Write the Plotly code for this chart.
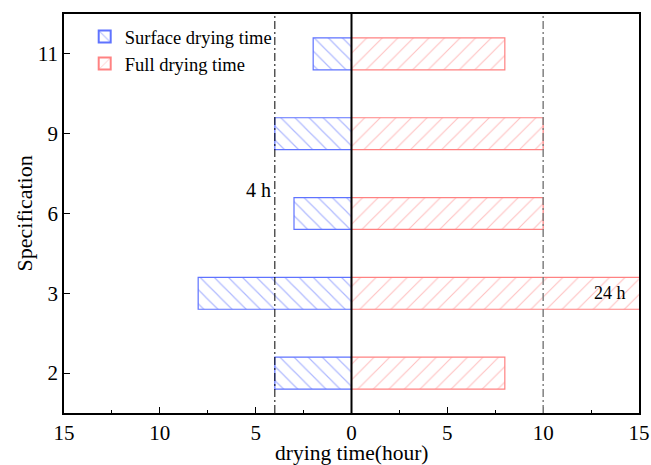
import plotly.graph_objects as go

specs = ["2", "3", "6", "9", "11"]
surface_time = [4, 8, 3, 4, 2]
full_time = [8, 24, 10, 10, 8]
x_tick_vals = [-15, -10, -5, 0, 5, 10, 15]
x_tick_text = ["15", "10", "5", "0", "5", "10", "15"]

BLUE = "rgb(95,115,255)"
RED = "rgb(255,130,130)"
FONT = "Liberation Serif"

fig = go.Figure()
fig.add_trace(go.Bar(
    y=specs, x=[-v for v in surface_time], orientation="h",
    name="Surface drying time", width=0.4,
    marker=dict(color="white", line=dict(color=BLUE, width=1.2),
                pattern=dict(shape="\\", fgcolor=BLUE, bgcolor="white", size=10, solidity=0.12)),
))
fig.add_trace(go.Bar(
    y=specs, x=full_time, orientation="h",
    name="Full drying time", width=0.4,
    marker=dict(color="white", line=dict(color=RED, width=1.2),
                pattern=dict(shape="/", fgcolor=RED, bgcolor="white", size=11, solidity=0.1)),
))

fig.add_shape(type="line", xref="x", yref="paper", x0=0, x1=0, y0=0, y1=1,
              line=dict(color="black", width=2))
fig.add_shape(type="line", xref="x", yref="paper", x0=-4, x1=-4, y0=0, y1=1,
              line=dict(color="black", width=1, dash="8px,3px,2px,3px"))
fig.add_shape(type="line", xref="x", yref="paper", x0=10, x1=10, y0=0, y1=1,
              line=dict(color="gray", width=1.5, dash="8px,3px,2px,3px"))

fig.add_annotation(x=-4, y=2.3, xref="x", yref="y", text="4 h", showarrow=False,
                   xanchor="right", xshift=-2, font=dict(family=FONT, size=20, color="black"))
fig.add_annotation(x=14.4, y=1, xref="x", yref="y", text="24 h", showarrow=False,
                   xanchor="right", font=dict(family=FONT, size=18, color="black"))

# axis titles
fig.add_annotation(x=0.5, y=-0.101, xref="paper", yref="paper", text="drying time(hour)",
                   showarrow=False, xanchor="center", yanchor="middle",
                   font=dict(family=FONT, size=21.5, color="black"))
fig.add_annotation(x=-0.068, y=0.5, xref="paper", yref="paper", text="Specification",
                   showarrow=False, textangle=-90, xanchor="center", yanchor="middle",
                   font=dict(family=FONT, size=22, color="black"))

fig.update_layout(
    width=651, height=465,
    margin=dict(l=64, r=12, t=14, b=52),
    plot_bgcolor="white", paper_bgcolor="white",
    barmode="overlay",
    font=dict(family=FONT, size=20, color="black"),
    legend=dict(x=0.036, y=0.99, xanchor="left", yanchor="top",
                bgcolor="rgba(0,0,0,0)", font=dict(family=FONT, size=18.5),
                itemsizing="constant", tracegroupgap=0),
    showlegend=True,
)
fig.update_xaxes(
    range=[-15, 15], tickvals=x_tick_vals, ticktext=x_tick_text,
    ticks="inside", ticklen=6, tickwidth=1, tickcolor="black",
    minor=dict(ticks="inside", ticklen=3, dtick=2.5, tickcolor="black"),
    showline=True, linecolor="black", linewidth=1.5, mirror=True,
    showgrid=False, zeroline=False, automargin=False,
    tickfont=dict(family=FONT, size=21),
)
fig.update_yaxes(
    type="category", categoryorder="array", categoryarray=specs,
    range=[-0.5, 4.5], automargin=False,
    ticks="inside", ticklen=6, tickwidth=1, tickcolor="black",
    showline=True, linecolor="black", linewidth=1.5, mirror=True,
    showgrid=False, zeroline=False,
    tickfont=dict(family=FONT, size=21),
)

fig.write_html("out.html")
